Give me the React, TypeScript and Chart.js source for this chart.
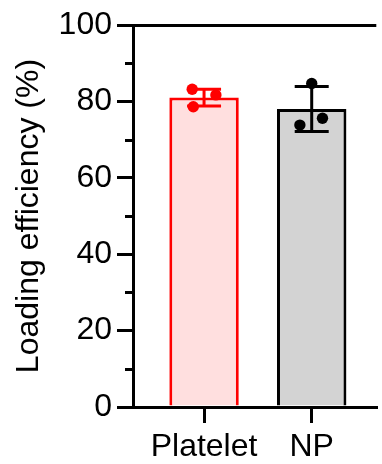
import React, { useEffect, useRef } from 'react';
import { Chart, registerables } from 'chart.js';

Chart.register(...registerables);

// ---- data ----
const categories = ['Platelet', 'NP'];
const means = [81.0, 78.0];
const sds = [2.2, 5.9];
const plateletPoints = [83.2, 81.7, 78.6];
const npPoints = [84.7, 75.6, 73.8];
const plateletJitter = [-0.11, 0.11, -0.1];
const npJitter = [0, 0.1, -0.11];
const yMajorTicks = [0, 20, 40, 60, 80, 100];
const yMinorTicks = [10, 30, 50, 70, 90];

// ---- styles ----
const fillColors = ['#FFDFDF', '#D3D3D3'];
const edgeColors = ['#FF0000', '#000000'];
const FONT = "'Liberation Sans', Arial, sans-serif";

const errorBarPlugin = {
  id: 'errorBars',
  afterDatasetDraw(chart: any, args: any) {
    if (args.index !== 0) return;
    const ctx = chart.ctx;
    const xs = chart.scales.x;
    const ys = chart.scales.y;
    ctx.save();
    ctx.lineWidth = 3;
    ctx.lineCap = 'butt';
    means.forEach((m, i) => {
      const px = xs.getPixelForValue(i + 1);
      const top = ys.getPixelForValue(m + sds[i]);
      const bot = ys.getPixelForValue(m - sds[i]);
      const half = 17;
      ctx.strokeStyle = edgeColors[i];
      ctx.beginPath();
      ctx.moveTo(px, top);
      ctx.lineTo(px, bot);
      ctx.moveTo(px - half, top);
      ctx.lineTo(px + half, top);
      ctx.moveTo(px - half, bot);
      ctx.lineTo(px + half, bot);
      ctx.stroke();
    });
    ctx.restore();
  },
};

const minorTickPlugin = {
  id: 'minorTicks',
  afterDraw(chart: any) {
    const ctx = chart.ctx;
    const ys = chart.scales.y;
    const left = chart.chartArea.left;
    ctx.save();
    ctx.strokeStyle = '#000';
    ctx.lineWidth = 3;
    yMinorTicks.forEach((v) => {
      const py = Math.round(ys.getPixelForValue(v)) + 0.5;
      ctx.beginPath();
      ctx.moveTo(left - 8, py);
      ctx.lineTo(left, py);
      ctx.stroke();
    });
    ctx.restore();
  },
};

export default function App() {
  const ref = useRef<HTMLCanvasElement>(null);

  useEffect(() => {
    document.body.style.margin = '0';
    if (!ref.current) return;
    const chart = new Chart(ref.current, {
      type: 'bar',
      data: {
        datasets: [
          {
            type: 'bar',
            data: categories.map((c, i) => ({ x: i + 1, y: means[i] })),
            backgroundColor: fillColors,
            borderColor: edgeColors,
            borderWidth: 3,
            borderSkipped: 'start',
            barPercentage: 0.645,
            categoryPercentage: 1,
            order: 2,
          } as any,
          {
            type: 'scatter',
            data: plateletPoints.map((v, i) => ({ x: 1 + plateletJitter[i], y: v })),
            backgroundColor: edgeColors[0],
            borderWidth: 0,
            pointRadius: 5.7,
            order: 1,
          } as any,
          {
            type: 'scatter',
            data: npPoints.map((v, i) => ({ x: 2 + npJitter[i], y: v })),
            backgroundColor: edgeColors[1],
            borderWidth: 0,
            pointRadius: 5.7,
            order: 1,
          } as any,
        ],
      },
      options: {
        animation: false,
        responsive: true,
        maintainAspectRatio: false,
        layout: { padding: { top: 25, right: 0, left: 0, bottom: 0 } },
        plugins: { legend: { display: false }, tooltip: { enabled: false } },
        scales: {
          x: {
            type: 'linear',
            min: 0.34,
            max: 2.6,
            offset: false,
            bounds: 'data',
            afterBuildTicks: (scale: any) => {
              scale.ticks = categories.map((_, i) => ({ value: i + 1 }));
            },
            afterFit: (scale: any) => {
              scale.height = 57;
              scale.paddingLeft = 0;
              scale.paddingRight = 0;
            },
            grid: {
              offset: false,
              drawOnChartArea: false,
              drawTicks: true,
              tickLength: 16,
              color: '#000',
              tickColor: '#000',
              lineWidth: 3,
              tickWidth: 3,
            },
            border: { display: true, color: '#000', width: 3 },
            ticks: {
              color: '#000',
              font: { family: FONT, size: 32 },
              padding: 5,
              maxRotation: 0,
              autoSkip: false,
              callback: (v: any) => categories[Math.round(Number(v)) - 1] ?? '',
            },
          },
          y: {
            type: 'linear',
            min: 0,
            max: 100,
            afterBuildTicks: (scale: any) => {
              scale.ticks = yMajorTicks.map((v) => ({ value: v }));
            },
            afterFit: (scale: any) => {
              scale.width = 133;
              scale.paddingTop = 0;
              scale.paddingBottom = 0;
            },
            grid: {
              drawOnChartArea: true,
              drawTicks: true,
              tickLength: 16,
              color: (c: any) => (c.tick && c.tick.value === 100 ? '#000' : 'rgba(0,0,0,0)'),
              tickColor: '#000',
              lineWidth: 3,
              tickWidth: 3,
            },
            border: { display: true, color: '#000', width: 3 },
            ticks: {
              color: '#000',
              font: { family: FONT, size: 32 },
              padding: 5,
              autoSkip: false,
            },
            title: {
              display: true,
              text: 'Loading efficiency (%)',
              color: '#000',
              font: { family: FONT, size: 32 },
              padding: { top: 10, bottom: 0 },
            },
          },
        },
      },
      plugins: [errorBarPlugin, minorTickPlugin],
    } as any);
    return () => chart.destroy();
  }, []);

  return (
    <div style={{ position: 'fixed', left: 0, top: 0, width: 382, height: 464, background: '#fff' }}>
      <canvas ref={ref} />
    </div>
  );
}
